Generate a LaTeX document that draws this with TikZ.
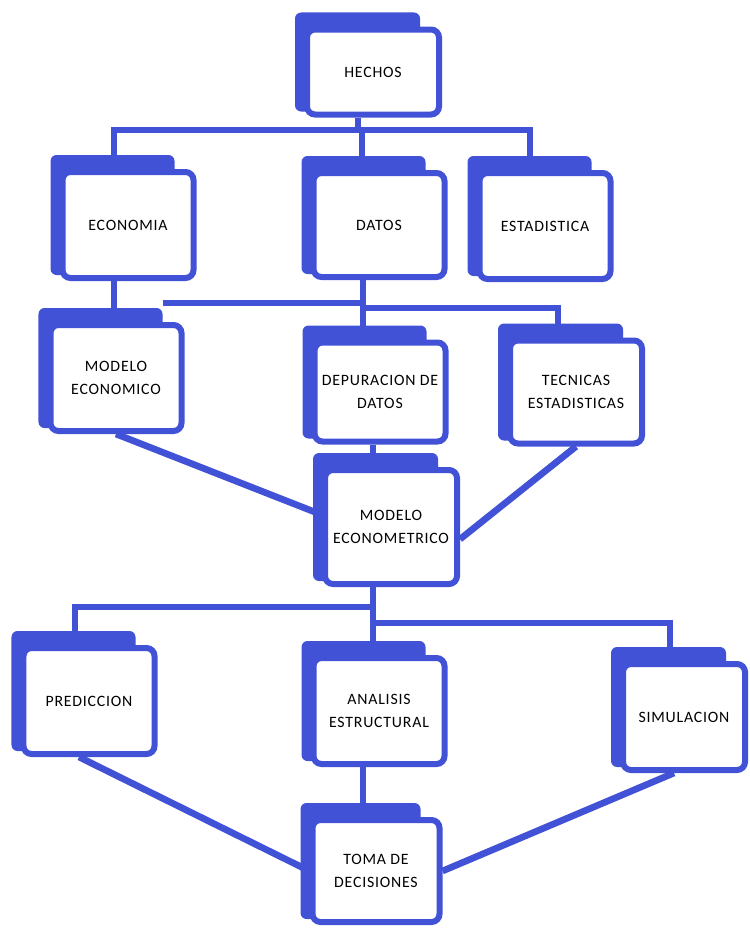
\documentclass[tikz,border=0pt]{standalone}
\usepackage{fontspec}
\setmainfont{Carlito}
\newfontfamily\boxfont[LetterSpace=5]{Carlito}
\usetikzlibrary{calc,backgrounds}
\definecolor{chartblue}{RGB}{66,82,214}

\begin{document}
\begin{tikzpicture}[
  x=0.3mm, y=-0.3mm,
  box/.style={draw=chartblue, line width=1.8mm, fill=white,
    rounded corners=2.4mm, align=center, inner sep=0pt,
    font=\boxfont\fontsize{13.5}{20}\selectfont,
    minimum width=39.3mm, minimum height=31.8mm},
  link/.style={draw=chartblue, line width=2mm},
]

\useasboundingbox (0,0) rectangle (750,928);

\node [box, minimum width=39.6mm, minimum height=25.5mm] (hechos) at (373,72) {HECHOS};

\node [box] (economia) at (128,225) {ECONOMIA};
\node [box, minimum height=31.2mm] (datos) at (379,225) {DATOS};
\node [box] (estadistica) at (545,226) {ESTADISTICA};

\node [box] (modeco) at (116,378) {MODELO\\ECONOMICO};
\node [box, minimum height=29.7mm] (depuracion) at (380,392) {DEPURACION DE\\DATOS};
\node [box, minimum width=39.6mm, minimum height=30.9mm] (tecnicas) at (576,392) {TECNICAS\\ESTADISTICAS};

\node [box, minimum width=39.6mm, minimum height=34.2mm] (econometrico) at (391,527) {MODELO\\ECONOMETRICO};

\node [box] (prediccion) at (89,701) {PREDICCION};
\node [box] (analisis) at (379,711) {ANALISIS\\ESTRUCTURAL};
\node [box, minimum width=36.6mm] (simulacion) at (684,717) {SIMULACION};

\node [box, minimum width=38.1mm, minimum height=30.6mm] (toma) at (376,871) {TOMA DE\\DECISIONES};

\begin{scope}[on background layer]
% stacked sheet behind each box
\foreach \n in {hechos,economia,datos,estadistica,modeco,depuracion,tecnicas,
                econometrico,prediccion,analisis,simulacion,toma}
  \fill [chartblue, rounded corners=1.8mm]
    ($(\n.north west)+(-9,-14)$) rectangle ($(\n.south east)+(-22,-6)$);

% hechos -> first row
\coordinate (j1) at (358,130);
\coordinate (b1) at (114,130);
\coordinate (b2) at (530,130);
\coordinate (b3) at (362,130);
\draw [link] (hechos.south -| j1) -- (j1);
\draw [link] (economia.north -| b1) -- (b1) -- (b2) -- (estadistica.north -| b2);
\draw [link] (b3) -- (datos.north -| b3);

% first row -> second row
\coordinate (c1) at (163,303);
\coordinate (c2) at (363,303);
\coordinate (c3) at (363,308);
\coordinate (c4) at (558,308);
\draw [link] (economia.south -| b1) -- (modeco.north -| b1);
\draw [link] (datos.south -| c2) -- (depuracion.north -| c2);
\draw [link] (c1) -- (c2);
\draw [link] (c3) -- (c4) -- (tecnicas.north -| c4);

% second row -> modelo econometrico
\coordinate (d1) at (373,450);
\draw [link] (depuracion.south -| d1) -- (econometrico.north -| d1);
\draw [link] (modeco.south) -- (econometrico.170);
\draw [link] (tecnicas.south) -- (econometrico.-10);

% modelo econometrico -> third row
\coordinate (e1) at (373,607);
\coordinate (e2) at (75,607);
\coordinate (e3) at (373,623);
\coordinate (e4) at (670,623);
\draw [link] (econometrico.south -| e1) -- (analisis.north -| e1);
\draw [link] (e1) -- (e2) -- (prediccion.north -| e2);
\draw [link] (e3) -- (e4) -- (simulacion.north -| e4);

% third row -> toma de decisiones
\coordinate (f1) at (363,790);
\draw [link] (analisis.south -| f1) -- (toma.north -| f1);
\draw [link] ($(prediccion.south)+(-10,0)$) -- (toma.west);
\draw [link] ($(simulacion.south)+(-10,0)$) -- (toma.east);
\end{scope}

\end{tikzpicture}
\end{document}
